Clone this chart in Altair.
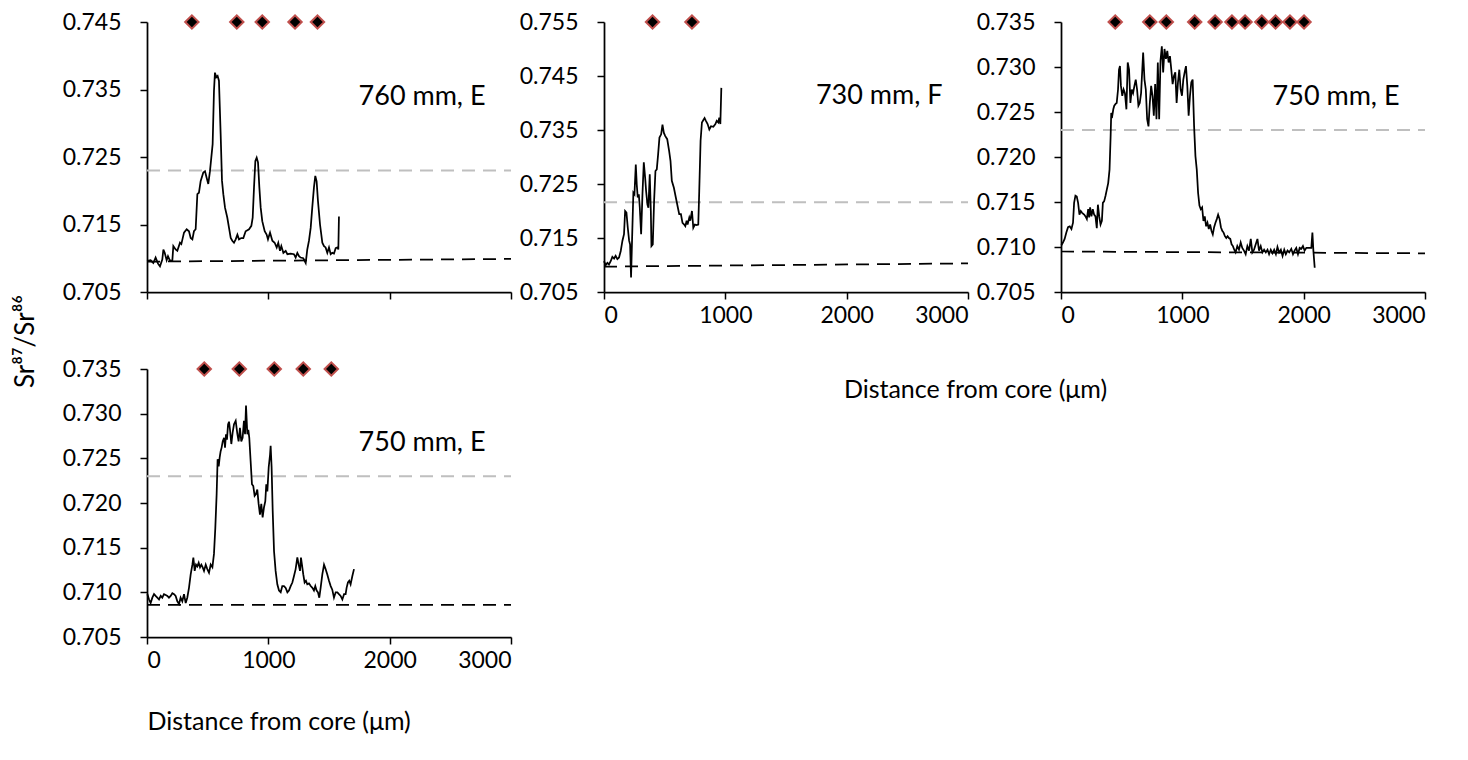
import altair as alt
import pandas as pd

FONT = "Lato"

# ---------------- data ----------------
# Panel 1: 760 mm, E
a_dist = [0, 30, 52, 71, 91, 107, 126, 135, 146, 162,
          173, 190, 209, 217, 236, 250, 272, 283, 305, 327,
          346, 360, 374, 387, 401, 415, 428, 442, 464, 478,
          492, 505, 519, 530, 541, 552, 560, 571, 582, 593,
          607, 618, 629, 643, 662, 676, 690, 703, 717, 731,
          745, 758, 777, 794, 813, 841, 860, 871, 882, 893,
          904, 915, 926, 937, 950, 970, 986, 997, 1014, 1033,
          1052, 1069, 1082, 1096, 1107, 1124, 1143, 1157, 1184, 1211,
          1225, 1239, 1253, 1266, 1288, 1308, 1321, 1335, 1349, 1362,
          1376, 1387, 1398, 1409, 1426, 1445, 1459, 1472, 1486, 1500,
          1514, 1527, 1541, 1555, 1569, 1577, 1582]
a_ratio = [0.7096, 0.7097, 0.7093, 0.7101, 0.7092, 0.7088, 0.7098, 0.7113, 0.7108, 0.7097,
           0.7103, 0.7096, 0.7097, 0.7118, 0.7113, 0.7111, 0.7123, 0.7121, 0.7138, 0.7143,
           0.7140, 0.7130, 0.7128, 0.7140, 0.7143, 0.7195, 0.7197, 0.7214, 0.7227, 0.7229,
           0.7219, 0.7210, 0.7229, 0.7249, 0.7269, 0.7348, 0.7375, 0.7368, 0.7370, 0.7363,
           0.7284, 0.7215, 0.7195, 0.7175, 0.7160, 0.7145, 0.7130, 0.7126, 0.7123, 0.7128,
           0.7135, 0.7128, 0.7130, 0.7130, 0.7140, 0.7143, 0.7148, 0.7160, 0.7205, 0.7244,
           0.7249, 0.7242, 0.7205, 0.7175, 0.7155, 0.7140, 0.7135, 0.7128, 0.7138, 0.7126,
           0.7123, 0.7116, 0.7123, 0.7111, 0.7118, 0.7108, 0.7111, 0.7106, 0.7107, 0.7106,
           0.7101, 0.7108, 0.7103, 0.7101, 0.7100, 0.7093, 0.7113, 0.7126, 0.7145, 0.7175,
           0.7205, 0.7222, 0.7214, 0.7185, 0.7150, 0.7123, 0.7118, 0.7116, 0.7108, 0.7116,
           0.7106, 0.7108, 0.7107, 0.7115, 0.7116, 0.7113, 0.7162]
a_marks = [370, 740, 950, 1220, 1405]

# Panel 2: 730 mm, F
b_dist = [0, 14, 28, 41, 55, 69, 83, 96, 110, 124,
          138, 152, 165, 174, 185, 196, 207, 215, 223, 234,
          242, 251, 262, 270, 278, 287, 295, 306, 317, 328,
          339, 347, 358, 366, 377, 386, 391, 402, 413, 424,
          435, 446, 457, 471, 482, 493, 504, 521, 537, 548,
          559, 576, 592, 609, 620, 634, 647, 661, 670, 681,
          689, 703, 711, 725, 736, 749, 763, 777, 785, 796,
          807, 818, 829, 840, 854, 868, 882, 901, 918, 929,
          942, 950, 959, 967]
b_ratio = [0.7107, 0.7100, 0.7104, 0.7101, 0.7107, 0.7115, 0.7112, 0.7117, 0.7111, 0.7114,
           0.7126, 0.7145, 0.7157, 0.7200, 0.7197, 0.7169, 0.7145, 0.7138, 0.7077, 0.7169,
           0.7234, 0.7231, 0.7286, 0.7249, 0.7225, 0.7231, 0.7206, 0.7157, 0.7231, 0.7290,
           0.7262, 0.7237, 0.7212, 0.7206, 0.7268, 0.7200, 0.7135, 0.7138, 0.7219, 0.7274,
           0.7277, 0.7305, 0.7336, 0.7342, 0.7360, 0.7345, 0.7339, 0.7333, 0.7311, 0.7293,
           0.7256, 0.7243, 0.7225, 0.7206, 0.7194, 0.7194, 0.7178, 0.7175, 0.7172, 0.7182,
           0.7175, 0.7188, 0.7182, 0.7200, 0.7169, 0.7175, 0.7174, 0.7175, 0.7237, 0.7330,
           0.7364, 0.7368, 0.7372, 0.7367, 0.7361, 0.7351, 0.7357, 0.7356, 0.7361, 0.7367,
           0.7364, 0.7373, 0.7361, 0.7428]
b_marks = [400, 725]

# Panel 3: 750 mm, E
c_dist = [3, 16, 30, 44, 58, 72, 86, 99, 108, 119,
          130, 141, 152, 163, 174, 191, 202, 213, 224, 232,
          240, 251, 262, 273, 284, 295, 304, 315, 326, 337,
          345, 356, 367, 378, 389, 400, 409, 414, 423, 431,
          439, 450, 459, 470, 478, 486, 494, 505, 516, 527,
          539, 550, 561, 572, 583, 594, 605, 616, 627, 638,
          649, 660, 677, 688, 699, 710, 721, 732, 743, 754,
          765, 776, 787, 798, 809, 820, 831, 842, 853, 865,
          876, 887, 898, 909, 920, 931, 942, 953, 964, 975,
          986, 997, 1008, 1019, 1030, 1041, 1052, 1063, 1074, 1085,
          1097, 1108, 1119, 1130, 1141, 1152, 1163, 1174, 1185, 1196,
          1207, 1218, 1229, 1240, 1251, 1262, 1273, 1284, 1295, 1307,
          1318, 1329, 1340, 1351, 1362, 1373, 1384, 1395, 1406, 1417,
          1428, 1439, 1453, 1467, 1481, 1494, 1508, 1522, 1536, 1550,
          1564, 1577, 1591, 1605, 1619, 1632, 1646, 1660, 1674, 1688,
          1702, 1715, 1729, 1743, 1757, 1771, 1784, 1798, 1812, 1826,
          1840, 1853, 1867, 1881, 1898, 1912, 1925, 1939, 1953, 1967,
          1981, 1994, 2008, 2022, 2036, 2050, 2063, 2072, 2080, 2091]
c_ratio = [0.7102, 0.7105, 0.7109, 0.7116, 0.7122, 0.7123, 0.7120, 0.7127, 0.7149, 0.7157,
           0.7156, 0.7149, 0.7136, 0.7140, 0.7138, 0.7136, 0.7134, 0.7131, 0.7142, 0.7133,
           0.7144, 0.7134, 0.7142, 0.7136, 0.7134, 0.7121, 0.7147, 0.7134, 0.7125, 0.7129,
           0.7149, 0.7151, 0.7157, 0.7164, 0.7171, 0.7186, 0.7223, 0.7249, 0.7246, 0.7253,
           0.7257, 0.7259, 0.7260, 0.7275, 0.7297, 0.7301, 0.7279, 0.7268, 0.7275, 0.7271,
           0.7253, 0.7305, 0.7297, 0.7260, 0.7275, 0.7271, 0.7279, 0.7286, 0.7275, 0.7257,
           0.7260, 0.7271, 0.7316, 0.7286, 0.7275, 0.7242, 0.7234, 0.7260, 0.7279, 0.7268,
           0.7246, 0.7281, 0.7242, 0.7305, 0.7242, 0.7307, 0.7323, 0.7294, 0.7320, 0.7309,
           0.7318, 0.7305, 0.7312, 0.7297, 0.7281, 0.7290, 0.7294, 0.7260, 0.7283, 0.7297,
           0.7275, 0.7268, 0.7286, 0.7294, 0.7301, 0.7279, 0.7246, 0.7268, 0.7283, 0.7286,
           0.7234, 0.7201, 0.7186, 0.7160, 0.7146, 0.7142, 0.7144, 0.7129, 0.7134, 0.7123,
           0.7127, 0.7120, 0.7125, 0.7118, 0.7114, 0.7122, 0.7127, 0.7131, 0.7136, 0.7131,
           0.7122, 0.7118, 0.7116, 0.7112, 0.7110, 0.7112, 0.7110, 0.7109, 0.7103, 0.7101,
           0.7097, 0.7094, 0.7101, 0.7097, 0.7105, 0.7099, 0.7096, 0.7092, 0.7101, 0.7096,
           0.7109, 0.7094, 0.7097, 0.7103, 0.7109, 0.7096, 0.7101, 0.7094, 0.7097, 0.7094,
           0.7097, 0.7092, 0.7097, 0.7093, 0.7097, 0.7092, 0.7100, 0.7094, 0.7097, 0.7090,
           0.7097, 0.7092, 0.7096, 0.7094, 0.7098, 0.7092, 0.7096, 0.7099, 0.7092, 0.7099,
           0.7098, 0.7101, 0.7096, 0.7099, 0.7099, 0.7099, 0.7099, 0.7116, 0.7096, 0.7077]
c_marks = [447, 732, 868, 1102, 1270, 1409, 1517, 1655, 1768, 1887, 2003]

# Panel 4: 750 mm, E
d_dist = [3, 17, 30, 44, 58, 71, 85, 99, 113, 126,
          140, 154, 168, 181, 195, 209, 223, 236, 250, 264,
          277, 291, 305, 319, 332, 346, 360, 374, 382, 393,
          404, 415, 426, 437, 448, 459, 470, 484, 497, 511,
          525, 539, 552, 563, 574, 582, 591, 599, 607, 615,
          624, 635, 643, 651, 659, 668, 676, 684, 695, 706,
          717, 731, 745, 755, 766, 777, 788, 799, 808, 816,
          827, 835, 843, 854, 865, 876, 887, 898, 909, 920,
          931, 942, 953, 964, 975, 983, 992, 1003, 1014, 1019,
          1027, 1036, 1047, 1060, 1074, 1088, 1102, 1115, 1129, 1143,
          1157, 1170, 1184, 1198, 1211, 1225, 1239, 1250, 1261, 1269,
          1277, 1288, 1299, 1310, 1321, 1335, 1349, 1363, 1376, 1387,
          1398, 1409, 1420, 1431, 1445, 1459, 1472, 1486, 1500, 1514,
          1527, 1541, 1555, 1569, 1582, 1596, 1610, 1624, 1637, 1645,
          1656, 1667, 1678, 1692, 1706]
d_ratio = [0.7098, 0.7092, 0.7088, 0.7094, 0.7098, 0.7096, 0.7094, 0.7092, 0.7096, 0.7094,
           0.7098, 0.7097, 0.7096, 0.7094, 0.7096, 0.7099, 0.7098, 0.7096, 0.7090, 0.7087,
           0.7094, 0.7090, 0.7098, 0.7088, 0.7094, 0.7105, 0.7120, 0.7131, 0.7139, 0.7124,
           0.7131, 0.7129, 0.7133, 0.7128, 0.7131, 0.7128, 0.7124, 0.7131, 0.7126, 0.7122,
           0.7131, 0.7128, 0.7143, 0.7172, 0.7210, 0.7249, 0.7241, 0.7251, 0.7258, 0.7262,
           0.7269, 0.7273, 0.7262, 0.7277, 0.7271, 0.7288, 0.7291, 0.7282, 0.7266, 0.7279,
           0.7288, 0.7292, 0.7277, 0.7269, 0.7284, 0.7269, 0.7273, 0.7292, 0.7277, 0.7309,
           0.7277, 0.7282, 0.7273, 0.7247, 0.7221, 0.7219, 0.7208, 0.7210, 0.7215, 0.7199,
           0.7187, 0.7199, 0.7184, 0.7195, 0.7202, 0.7221, 0.7213, 0.7240, 0.7254, 0.7264,
           0.7240, 0.7191, 0.7146, 0.7124, 0.7109, 0.7102, 0.7100, 0.7107, 0.7107, 0.7105,
           0.7100, 0.7102, 0.7107, 0.7111, 0.7118, 0.7126, 0.7139, 0.7131, 0.7124, 0.7139,
           0.7131, 0.7120, 0.7111, 0.7113, 0.7109, 0.7110, 0.7107, 0.7105, 0.7102, 0.7107,
           0.7102, 0.7100, 0.7094, 0.7105, 0.7120, 0.7131, 0.7126, 0.7120, 0.7113, 0.7107,
           0.7103, 0.7094, 0.7100, 0.7100, 0.7098, 0.7096, 0.7092, 0.7098, 0.7098, 0.7105,
           0.7111, 0.7113, 0.7109, 0.7118, 0.7126]
d_marks = [472, 761, 1049, 1288, 1519]

# reference (grey) and baseline (black) dashed levels: value at 0 and at 3000 µm
ref_levels = [0.7230, 0.7216, 0.7230, 0.7230]
base_start = [0.7095, 0.7097, 0.7095, 0.7086]
base_end = [0.7099, 0.7103, 0.7093, 0.7086]

labels = ["760 mm, E", "730 mm, F", "750 mm, E", "750 mm, E"]
label_y = [0.7327, 0.7398, 0.7258, 0.7258]
label_x = 2790

y_ranges = [(0.705, 0.745, 0.01), (0.705, 0.755, 0.01), (0.705, 0.735, 0.005), (0.705, 0.735, 0.005)]
x_ticks = [0, 1000, 2000, 3000]

X_TITLE = "Distance from core (μm)"
Y_TITLE = "Sr⁸⁷/Sr⁸⁶"

for dd, rr in [(a_dist, a_ratio), (b_dist, b_ratio), (c_dist, c_ratio), (d_dist, d_ratio)]:
    assert len(dd) == len(rr)


def panel(i, dist, ratio, marks, w, h, show_xlabels, x_title_opts=None, y_title_opts=None):
    ymin, ymax, ystep = y_ranges[i]
    nt = int(round((ymax - ymin) / ystep))
    yticks = [round(ymin + k * ystep, 3) for k in range(nt + 1)]

    xaxis_kw = dict(values=x_ticks, labels=show_xlabels, labelPadding=5, format="d")
    if x_title_opts:
        xaxis_kw.update(x_title_opts)
        xt = X_TITLE
    else:
        xt = None
    yaxis_kw = dict(values=yticks, format=".3f", labelPadding=19)
    if y_title_opts:
        yaxis_kw.update(y_title_opts)
        yt = Y_TITLE
    else:
        yt = None

    xenc = alt.X("d:Q", scale=alt.Scale(domain=[0, 3000], nice=False, zero=False),
                 axis=alt.Axis(**xaxis_kw), title=xt)
    yenc = alt.Y("r:Q", scale=alt.Scale(domain=[ymin, ymax], nice=False, zero=False),
                 axis=alt.Axis(**yaxis_kw), title=yt)

    ref_df = pd.DataFrame({"d": [0, 3000], "r": [ref_levels[i], ref_levels[i]]})
    base_df = pd.DataFrame({"d": [0, 3000], "r": [base_start[i], base_end[i]]})
    line_df = pd.DataFrame({"d": dist, "r": ratio})
    mark_df = pd.DataFrame({"d": marks, "r": [ymax] * len(marks)})
    text_df = pd.DataFrame({"d": [label_x], "r": [label_y[i]], "t": [labels[i]]})

    ref = alt.Chart(ref_df).mark_line(color="#BFBFBF", strokeWidth=2, strokeDash=[13, 8]).encode(x=xenc, y=yenc)
    base = alt.Chart(base_df).mark_line(color="black", strokeWidth=1.75, strokeDash=[13, 8]).encode(x=xenc, y=yenc)
    line = alt.Chart(line_df).mark_line(color="black", strokeWidth=1.75).encode(x=xenc, y=yenc)
    pts = alt.Chart(mark_df).mark_point(shape="diamond", filled=True, fill="black", stroke="#C0504D",
                                        strokeWidth=2, size=180, opacity=1).encode(x=xenc, y=yenc)
    txt = alt.Chart(text_df).mark_text(align="right", baseline="alphabetic", font=FONT, fontSize=27,
                                       color="black").encode(x=xenc, y=yenc, text="t:N")
    return alt.layer(ref, base, line, pts, txt).properties(width=w, height=h)


p1 = panel(0, a_dist, a_ratio, a_marks, 364, 270, False,
           y_title_opts=dict(titleX=-122, titleY=319, titleAngle=270, titleAlign="center",
                             titleBaseline="middle", titleFontSize=26))
p2 = panel(1, b_dist, b_ratio, b_marks, 364, 270, True)
p3 = panel(2, c_dist, c_ratio, c_marks, 364, 270, True,
           x_title_opts=dict(titleX=-86, titleY=97, titleAlign="center", titleBaseline="middle"))
p4 = panel(3, d_dist, d_ratio, d_marks, 364, 268, True,
           x_title_opts=dict(titleX=0, titleY=84, titleAlign="left", titleBaseline="middle"))

chart = alt.concat(p1, p2, p3, p4, columns=3, spacing={"row": 77, "column": 93}, bounds="flush").properties(
    padding={"left": 4, "top": 3, "right": 5, "bottom": 5}
).configure_axis(
    domainColor="black", domainWidth=1.75, tickColor="black", tickWidth=1.5, tickSize=7,
    labelFont=FONT, labelFontSize=23, labelColor="black",
    titleFont=FONT, titleFontSize=25, titleFontWeight="normal", titleColor="black", grid=False
).configure_view(stroke=None)

chart.save("out.html", embed_options={"renderer": "svg", "actions": False})
